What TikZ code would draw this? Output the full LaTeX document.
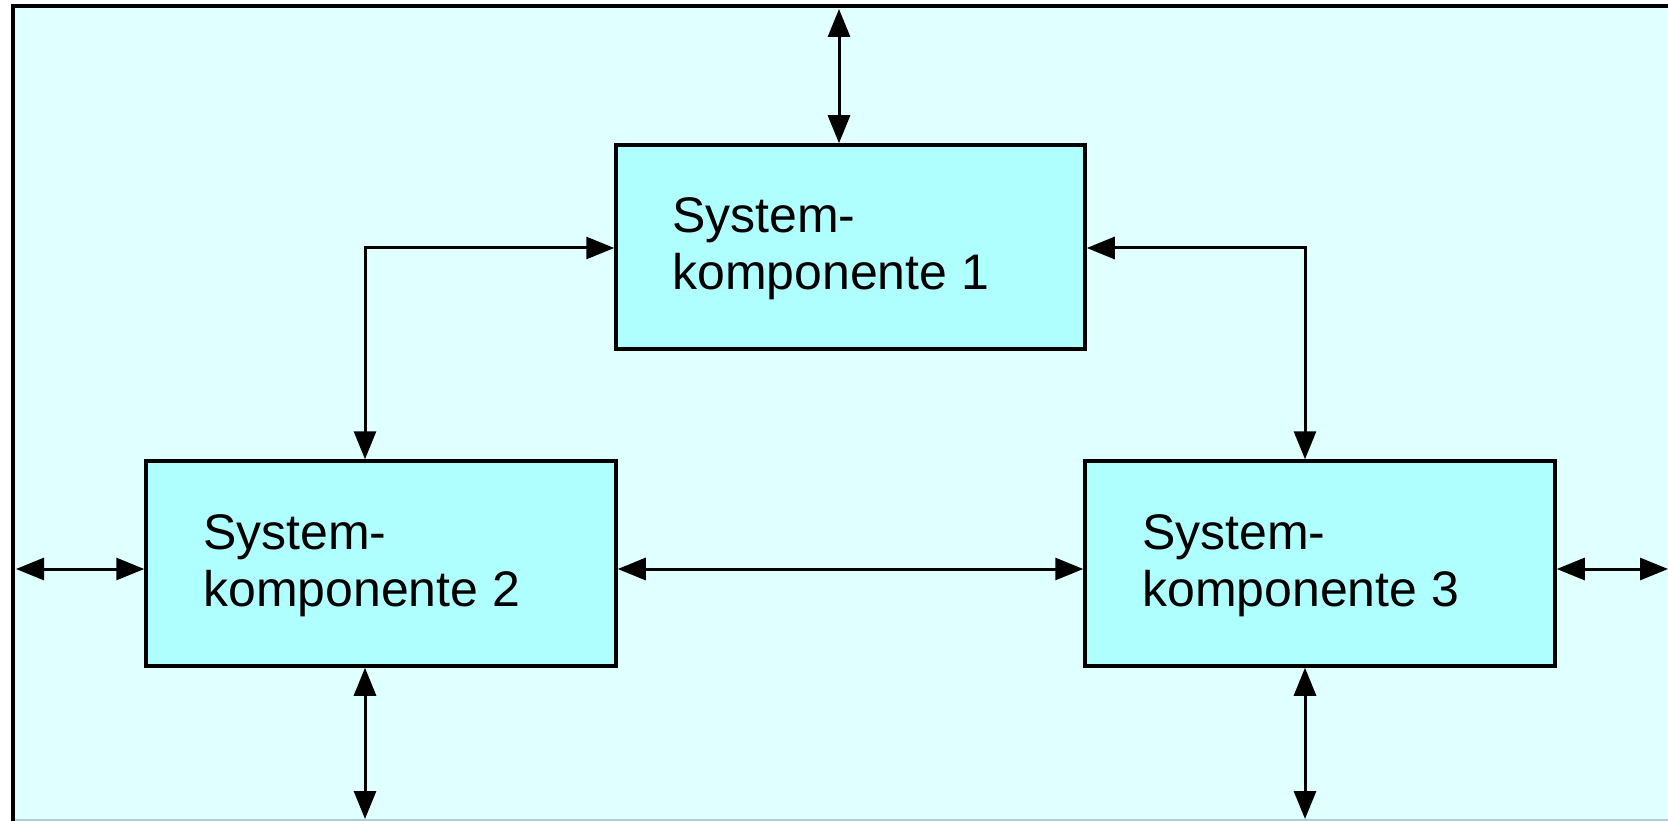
\documentclass[tikz,border=0pt]{standalone}
\usepackage{fontspec}
\setmainfont{Liberation Sans}
\usetikzlibrary{arrows.meta}
\definecolor{bgcyan}{RGB}{224,255,255}
\definecolor{boxcyan}{RGB}{176,255,255}
\definecolor{edgegray}{RGB}{170,205,215}
\tikzset{
  compbox/.style={draw=black, line width=3.5pt, fill=boxcyan, inner sep=0pt},
  comptext/.style={anchor=base west, align=left, inner sep=0pt, font=\fontsize{50}{57}\selectfont},
  conn/.style={line width=3pt, {Triangle[length=28pt,width=22pt]}-{Triangle[length=28pt,width=22pt]}},
}
\begin{document}
\begin{tikzpicture}[x=1pt,y=-1pt]
\useasboundingbox (0,0) rectangle (1668,821);
\fill[bgcyan] (13,6) rectangle (1668,821);
\draw[edgegray, line width=1.5pt] (13,820) -- (1668,820);
\draw[line width=4pt] (13,821) -- (13,6) -- (1668,6);

\path (616,145) rectangle (1085,349) node[pos=0.5, minimum width=469pt, minimum height=204pt, compbox] (b1) {};
\path (146,461) rectangle (616,666) node[pos=0.5, minimum width=470pt, minimum height=205pt, compbox] (b2) {};
\path (1085,461) rectangle (1555,666) node[pos=0.5, minimum width=470pt, minimum height=205pt, compbox] (b3) {};

% base anchor of a multi-line node lies on its last line
\node[comptext] (t1) at (672,289) {System-\\komponente 1};
\node[comptext] (t2) at (203,606) {System-\\komponente 2};
\node[comptext] (t3) at (1142,606) {System-\\komponente 3};

\coordinate (top) at (839,9);
\coordinate (c1) at (365,248);
\coordinate (c2) at (1305,248);
\coordinate (lm) at (16,569);
\coordinate (rm) at (1668,569);
\coordinate (bl) at (365,819);
\coordinate (br) at (1305,819);

\draw[conn] (top) -- (top |- b1.north);
\draw[conn] (b1.west |- c1) -- (c1) -- (c1 |- b2.north);
\draw[conn] (b1.east |- c2) -- (c2) -- (c2 |- b3.north);
\draw[conn] (b2.east |- lm) -- (b3.west |- lm);
\draw[conn] (lm) -- (b2.west |- lm);
\draw[conn] (b3.east |- rm) -- (rm);
\draw[conn] (bl |- b2.south) -- (bl);
\draw[conn] (br |- b3.south) -- (br);
\end{tikzpicture}
\end{document}
